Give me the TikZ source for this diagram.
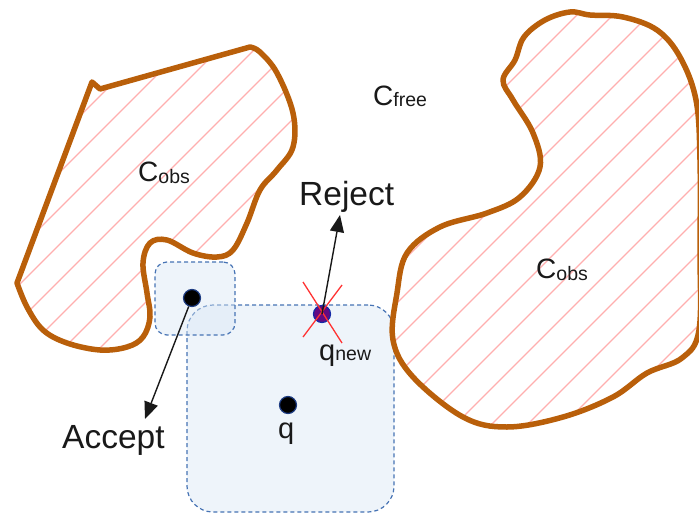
\documentclass[tikz,border=0pt]{standalone}
\usepackage{fontspec}
\setmainfont{Liberation Sans}
\usetikzlibrary{arrows.meta}
\definecolor{obsline}{RGB}{185,95,10}
\definecolor{hatchc}{RGB}{255,175,175}
\definecolor{boxline}{RGB}{70,115,180}
\definecolor{boxfill}{RGB}{218,231,245}
\definecolor{txt}{RGB}{25,25,25}
\definecolor{newpt}{RGB}{100,10,130}
\definecolor{dotring}{RGB}{30,60,130}
\definecolor{redx}{RGB}{255,50,50}
\begin{document}
\begin{tikzpicture}[x=1pt,y=-1pt,
  obsstroke/.style={draw=obsline,line width=5.5pt,line join=round},
  hatchline/.style={draw=hatchc,line width=1.1pt},
  regionbox/.style={draw=boxline,line width=1.2pt,dash pattern=on 4pt off 3pt,fill=boxfill,fill opacity=0.45,inner sep=0pt},
  ptdot/.style={circle,fill=black,draw=dotring,line width=1.2pt,inner sep=0pt,minimum size=17pt},
  newdot/.style={circle,fill=newpt,draw=dotring!70!blue,line width=1.2pt,inner sep=0pt,minimum size=17pt},
  crossline/.style={draw=redx,line width=1.3pt},
  arr/.style={draw=txt,line width=1.4pt,-{Triangle[length=17pt,width=14pt]}},
  bigtxt/.style={text=txt,inner sep=0pt,anchor=base west,font=\fontsize{33.5}{36}\selectfont},
  lbl/.style={text=txt,inner sep=0pt,anchor=base west,font=\fontsize{28}{32}\selectfont}
]
\useasboundingbox (0,0) rectangle (699,514);
\def\leftobs{(17,283) -- (92,82) -- (100,89) -- plot[smooth,tension=0.5] coordinates {(100,89) (175,68) (250,47)} -- plot[smooth,tension=0.6] coordinates {(250,47) (260,52) (277,73) (293,113) (293,147) (277,170) (260,190) (247,223) (233,250) (217,257) (193,253) (167,240) (150,243) (143,263) (147,293) (150,317) (143,337) (127,347) (100,350) (67,343) (43,330) (27,307) (17,283)} -- cycle}
\def\rightobs{plot[smooth cycle,tension=0.6] coordinates {(570,12) (590,15) (623,17) (657,30) (680,57) (696,100) (700,160) (700,250) (699,330) (682,358) (647,373) (613,397) (563,417) (507,427) (463,417) (413,377) (393,340) (397,293) (407,253) (440,227) (487,213) (520,197) (540,167) (533,133) (513,100) (503,80) (515,60) (524,37) (545,20)}}
% regions
\node[regionbox,rounded corners=26pt,minimum width=207pt,minimum height=207pt] (big) at (290.5,408.5) {};
\node[regionbox,rounded corners=12pt,minimum width=80pt,minimum height=73pt] (small) at (195,298.5) {};
% obstacles hatching
\begin{scope}
  \clip \leftobs;
  \foreach \i in {-540,-504,...,720} \draw[hatchline] (\i,520) -- ++(520,-520);
\end{scope}
\begin{scope}
  \clip \rightobs;
  \foreach \i in {-540,-504,...,720} \draw[hatchline] (\i,520) -- ++(520,-520);
\end{scope}
\path[obsstroke] \leftobs;
\path[obsstroke] \rightobs;
% points
\node[ptdot] (acc) at (192,298) {};
\node[ptdot] (q) at (288,405) {};
\node[newdot] (qn) at (322,314) {};
\draw[crossline] (qn.center) ++(-19,-32) -- ++(39,61);
\draw[crossline] (qn.center) ++(20,-29) -- ++(-39,52);
% arrow ends
\coordinate (rejtip) at (340,215);
\coordinate (acctip) at (145,419);
\draw[arr] (qn.center) -- (rejtip);
\draw[arr] (acc) -- (acctip);
% labels
\node[bigtxt] (rej) at (299,205) {Reject};
\node[bigtxt] (accl) at (62,448) {Accept};
\node[text=txt,inner sep=0pt,anchor=base west,font=\fontsize{29}{32}\selectfont] (ql) at (278,438) {q};
\node[text=txt,inner sep=0pt,anchor=base west] (qnl) at (319,360) {{\fontsize{29}{32}\selectfont q}{\fontsize{19.5}{22}\selectfont new}};
\node[lbl] (cobs1) at (138,181) {C{\fontsize{19.5}{22}\selectfont\raisebox{-2pt}{obs}}};
\node[lbl] (cfree) at (373,105) {C{\fontsize{19.5}{22}\selectfont\raisebox{-1pt}{free}}};
\node[lbl] (cobs2) at (536,278) {C{\fontsize{19.5}{22}\selectfont\raisebox{-2pt}{obs}}};
\end{tikzpicture}
\end{document}
